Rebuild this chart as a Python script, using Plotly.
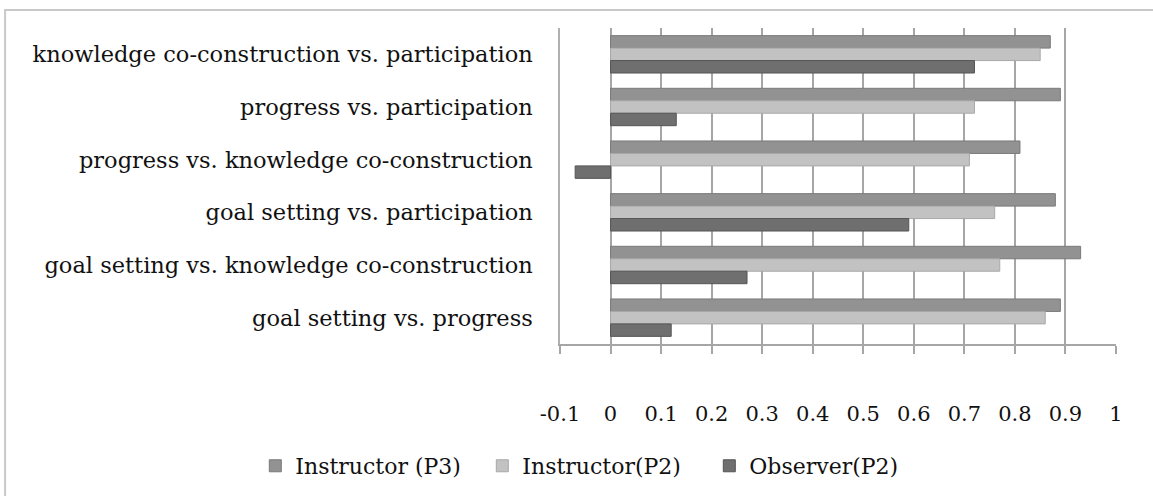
import plotly.graph_objects as go

categories = [
    "knowledge co-construction vs. participation",
    "progress vs. participation",
    "progress vs. knowledge co-construction",
    "goal setting vs. participation",
    "goal setting vs. knowledge co-construction",
    "goal setting vs. progress",
]
instructor_p3 = [0.87, 0.89, 0.81, 0.88, 0.93, 0.89]
instructor_p2 = [0.85, 0.72, 0.71, 0.76, 0.77, 0.86]
observer_p2 = [0.72, 0.13, -0.07, 0.59, 0.27, 0.12]
tick_vals = [-0.1, 0, 0.1, 0.2, 0.3, 0.4, 0.5, 0.6, 0.7, 0.8, 0.9, 1]
tick_text = ["-0.1", "0", "0.1", "0.2", "0.3", "0.4", "0.5", "0.6", "0.7", "0.8", "0.9", "1"]

series = [
    ("Instructor (P3)", instructor_p3, "#929292", "#7a7a7a"),
    ("Instructor(P2)", instructor_p2, "#c2c2c2", "#a8a8a8"),
    ("Observer(P2)", observer_p2, "#6f6f6f", "#555555"),
]

FONT = "DejaVu Serif"

fig = go.Figure()
for name, vals, col, edge in series:
    fig.add_trace(go.Bar(
        y=categories, x=vals, name=name, orientation="h",
        marker=dict(color=col, line=dict(color=edge, width=1)),
    ))

fig.update_layout(
    width=1153, height=496,
    margin=dict(l=560, r=37, t=28, b=152, autoexpand=False),
    paper_bgcolor="white", plot_bgcolor="white",
    barmode="group", bargap=0.29, bargroupgap=0.0,
    font=dict(family=FONT, size=21, color="#111111"),
    showlegend=True,
    legend=dict(orientation="h", x=-0.548, y=-0.386, xanchor="left", yanchor="middle",
                font=dict(family=FONT, size=22, color="#111111"),
                itemwidth=30, entrywidth=182, traceorder="normal"),
    xaxis=dict(range=[-0.1, 1.0], tickvals=tick_vals, ticktext=tick_text,
               showgrid=True, gridcolor="#a6a6a6", gridwidth=1.5,
               zeroline=True, zerolinecolor="#a6a6a6", zerolinewidth=1.5,
               showline=True, linecolor="#a6a6a6", linewidth=2,
               ticks="outside", ticklen=8, tickcolor="#a6a6a6", tickwidth=1.5,
               ticklabelstandoff=42, tickfont=dict(size=21)),
    yaxis=dict(autorange="reversed", showgrid=False,
               showline=True, linecolor="#b0b0b0", linewidth=1.5,
               ticks="", ticklabelstandoff=21, tickfont=dict(size=22.5)),
    shapes=[dict(type="rect", xref="paper", yref="paper",
                 x0=-0.998, x1=1.2, y0=-1.0, y1=1.057,
                 line=dict(color="#c8c8c8", width=2), fillcolor="rgba(0,0,0,0)", layer="below")],
)

fig.write_html("out.html", config={"displayModeBar": False},
               post_script="document.body.style.margin='0';")
